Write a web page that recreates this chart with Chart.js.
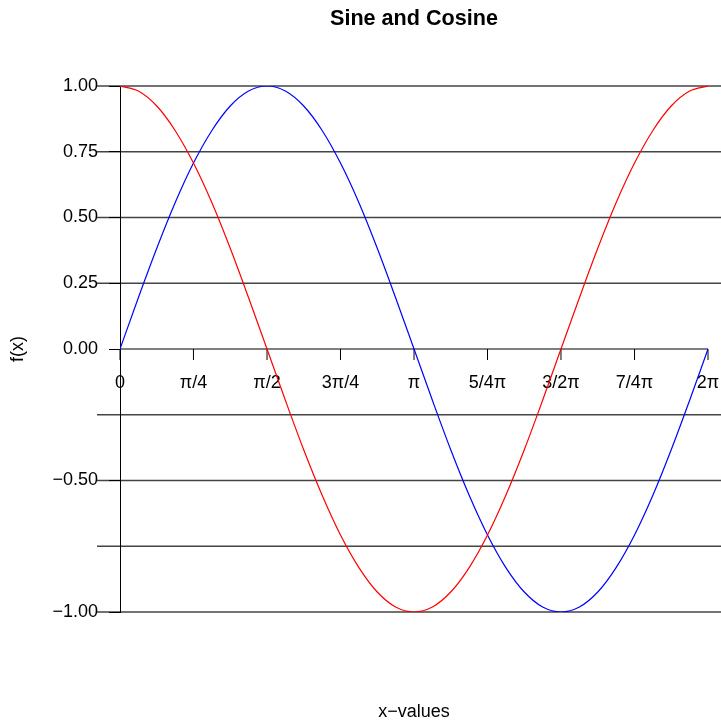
<!DOCTYPE html>
<html>
<head>
<meta charset="utf-8">
<script src="https://cdn.jsdelivr.net/npm/chart.js@4/dist/chart.umd.min.js"></script>
<style>
  body { margin: 0; background: #fff; }
  canvas { display: block; }
</style>
</head>
<body>
<canvas id="chart-area" width="721" height="720"></canvas>
<script>
var xValues = [0, 0.196, 0.393, 0.589, 0.785, 0.982, 1.178, 1.374, 1.571, 1.767, 1.963, 2.160, 2.356, 2.553, 2.749, 2.945,
    3.142, 3.338, 3.534, 3.731, 3.927, 4.123, 4.320, 4.516, 4.712, 4.909, 5.105, 5.301, 5.498, 5.694, 5.890, 6.087, 6.283];
var sineValues = [0, 0.195, 0.383, 0.556, 0.707, 0.831, 0.924, 0.981, 1, 0.981, 0.924, 0.831, 0.707, 0.556, 0.383, 0.195,
    0, -0.195, -0.383, -0.556, -0.707, -0.831, -0.924, -0.981, -1, -0.981, -0.924, -0.831, -0.707, -0.556, -0.383, -0.195, 0];
var cosineValues = [1, 0.981, 0.924, 0.831, 0.707, 0.556, 0.383, 0.195, 0, -0.195, -0.383, -0.556, -0.707, -0.831, -0.924, -0.981,
    -1, -0.981, -0.924, -0.831, -0.707, -0.556, -0.383, -0.195, 0, 0.195, 0.383, 0.556, 0.707, 0.831, 0.924, 0.981, 1];

var xTickValues = [0, 0.785, 1.571, 2.356, 3.142, 3.927, 4.712, 5.498, 6.283];
var xTickLabels = ["0", "\u03c0/4", "\u03c0/2", "3\u03c0/4", "\u03c0", "5/4\u03c0", "3/2\u03c0", "7/4\u03c0", "2\u03c0"];
var yTickValues = [-1, -0.75, -0.5, -0.25, 0, 0.25, 0.5, 0.75, 1];
var yTickLabels = ["\u22121.00", "", "\u22120.50", "", "0.00", "0.25", "0.50", "0.75", "1.00"];

var FONT = '"Liberation Sans", Arial, Helvetica, sans-serif';
Chart.defaults.font.family = FONT;
Chart.defaults.color = "#000";

function toPoints(ys) {
    var pts = [];
    for (var i = 0; i < xValues.length; i++) {
        pts.push({x: xValues[i], y: ys[i]});
    }
    return pts;
}

// R style axes: grid lines past the plot, x axis through y = 0
var rAxes = {
    id: "rAxes",
    beforeDraw: function(chart) {
        var ctx = chart.ctx, ys = chart.scales.y, area = chart.chartArea;
        ctx.save();
        ctx.strokeStyle = "#444";
        ctx.lineWidth = 1.3;
        for (var i = 0; i < yTickValues.length; i++) {
            if (yTickValues[i] === 0) continue;
            var py = ys.getPixelForValue(yTickValues[i]);
            ctx.beginPath();
            ctx.moveTo(area.left - 23, py);
            ctx.lineTo(chart.width, py);
            ctx.stroke();
        }
        ctx.restore();
    },
    beforeDatasetsDraw: function(chart) {
        var ctx = chart.ctx, xs = chart.scales.x, ys = chart.scales.y;
        var y0 = ys.getPixelForValue(0);
        var first = xs.getPixelForValue(xTickValues[0]);
        var last = xs.getPixelForValue(xTickValues[xTickValues.length - 1]);
        ctx.save();
        ctx.strokeStyle = "#000";
        ctx.lineWidth = 1;
        ctx.beginPath();
        ctx.moveTo(first, y0);
        ctx.lineTo(last, y0);
        for (var i = 0; i < xTickValues.length; i++) {
            var px = xs.getPixelForValue(xTickValues[i]);
            ctx.moveTo(px, y0);
            ctx.lineTo(px, y0 + 11);
        }
        ctx.stroke();
        ctx.fillStyle = "#000";
        ctx.font = "18px " + FONT;
        ctx.textAlign = "center";
        ctx.textBaseline = "alphabetic";
        for (var j = 0; j < xTickLabels.length; j++) {
            ctx.fillText(xTickLabels[j], xs.getPixelForValue(xTickValues[j]), y0 + 39);
        }
        ctx.restore();
    },
    afterDraw: function(chart) {
        var ctx = chart.ctx, area = chart.chartArea;
        ctx.save();
        ctx.fillStyle = "#000";
        ctx.font = "18px " + FONT;
        ctx.textAlign = "center";
        ctx.textBaseline = "alphabetic";
        ctx.fillText("x\u2212values", (area.left + area.right) / 2, chart.height - 3);
        ctx.restore();
    }
};

var ctx = document.getElementById("chart-area").getContext("2d");
var myChart = new Chart(ctx, {
    type: "line",
    data: {
        datasets: [
            {
                label: "cos",
                data: toPoints(cosineValues),
                borderColor: "#ff0000",
                borderWidth: 1.2,
                pointRadius: 0,
                fill: false,
                cubicInterpolationMode: "monotone"
            },
            {
                label: "sin",
                data: toPoints(sineValues),
                borderColor: "#0000ff",
                borderWidth: 1.2,
                pointRadius: 0,
                fill: false,
                cubicInterpolationMode: "monotone"
            }
        ]
    },
    options: {
        responsive: false,
        animation: false,
        devicePixelRatio: 1,
        layout: { padding: { left: 0, right: 13, top: 0, bottom: 108 } },
        plugins: {
            legend: { display: false },
            tooltip: { enabled: false },
            title: {
                display: true,
                fullSize: false,
                text: "Sine and Cosine",
                color: "#000",
                font: { size: 21.6, weight: "bold" },
                padding: { top: 6.5, bottom: 53.6 }
            }
        },
        scales: {
            x: {
                type: "linear",
                display: false,
                min: 0,
                max: 6.283
            },
            y: {
                type: "linear",
                min: -1,
                max: 1,
                afterFit: function(scale) { scale.width = 120; },
                afterBuildTicks: function(scale) {
                    scale.ticks = yTickValues.map(function(v) { return {value: v}; });
                },
                ticks: {
                    autoSkip: false,
                    padding: 11,
                    font: { size: 18 },
                    callback: function(value, index) { return yTickLabels[index]; }
                },
                grid: {
                    drawOnChartArea: false,
                    tickLength: 11,
                    tickColor: function(c) { return yTickLabels[c.index] === "" ? "#444" : "#000"; }
                },
                border: { color: "#000", width: 1 },
                title: {
                    display: true,
                    text: "f(x)",
                    font: { size: 18 },
                    padding: { top: 7, bottom: 0 }
                }
            }
        }
    },
    plugins: [rAxes]
});
</script>
</body>
</html>
